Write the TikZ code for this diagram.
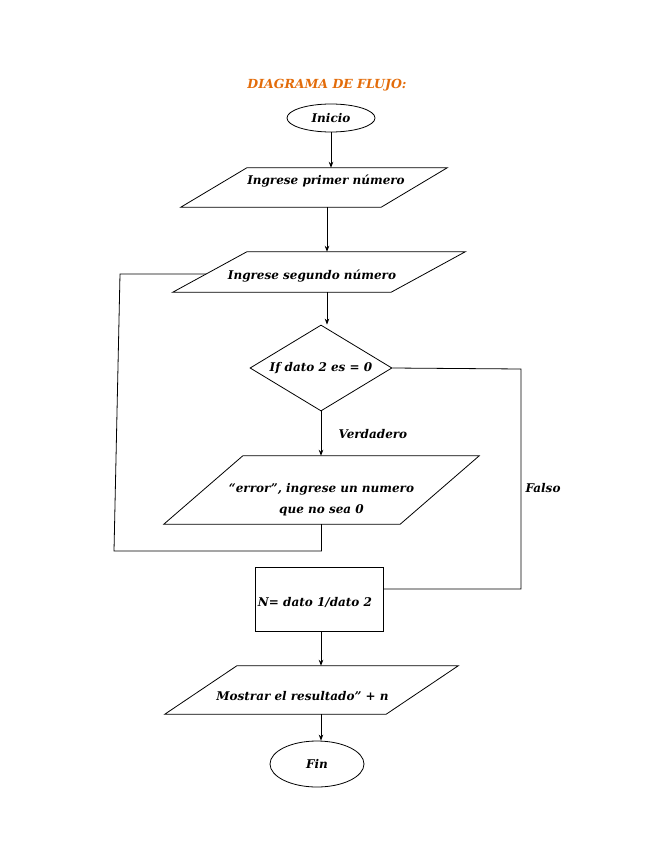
\documentclass[tikz,border=0pt]{standalone}
\usepackage{fontspec}
\setmainfont{DejaVu Serif}
\usetikzlibrary{shapes.geometric,arrows.meta}
\definecolor{titleorange}{HTML}{E36C0A}
\tikzset{
  flowtext/.style={font=\fontsize{12}{15}\selectfont\bfseries\itshape},
  terminal/.style={shape=ellipse,draw=black,line width=0.8pt,inner sep=0pt,flowtext},
  iobox/.style={shape=rectangle,inner sep=0pt,flowtext,align=center},
  decision/.style={shape=diamond,draw=black,line width=0.8pt,inner sep=0pt,aspect=1.65,flowtext},
  process/.style={shape=rectangle,draw=black,line width=0.8pt,inner sep=0pt,flowtext},
  flowline/.style={line width=0.8pt},
  flowarrow/.style={line width=0.8pt,-{Stealth[length=6pt,width=4.5pt]}}
}
\begin{document}
\begin{tikzpicture}[x=1pt,y=-1pt]
    \useasboundingbox (0,0) rectangle (655,848);
    \node[font=\fontsize{12.5}{15}\selectfont\bfseries\itshape,text=titleorange] (title) at (327,85) {DIAGRAMA DE FLUJO:};

    \node[terminal,minimum width=88pt,minimum height=28pt] (inicio) at (331,118) {Inicio};
    \node[iobox,minimum width=266pt,minimum height=39pt,text height=9pt,text depth=15pt] (p1) at (314,187.5) {\hspace*{24pt}Ingrese primer número};
    \node[iobox,minimum width=292pt,minimum height=40pt,text height=17pt,text depth=3pt] (p2) at (319,272) {Ingrese segundo número\hspace*{14pt}};
    \node[decision,minimum width=142pt,minimum height=86pt] (d) at (321,368) {If dato 2 es = 0};
    \node[iobox,minimum width=315pt,minimum height=68pt,text height=49pt,text depth=3pt] (p3) at (321.5,490) {“error”, ingrese un numero\\[6pt]que no sea 0};
    \node[process,minimum width=128pt,minimum height=64pt,text height=17pt,text depth=3pt] (r) at (319,599) {N= dato 1/dato 2\hspace*{8pt}};
    \node[iobox,minimum width=293pt,minimum height=48pt,text height=23pt,text depth=3pt] (p4) at (311.5,690) {Mostrar el resultado” + n\hspace*{18pt}};
    \node[terminal,minimum width=94pt,minimum height=46pt] (fin) at (317,764) {Fin};

    \node[flowtext,anchor=west] (verdadero) at (335,434) {Verdadero};
    \node[flowtext,anchor=west] (falso) at (522,488) {Falso};

    % parallelogram outlines round the input/output nodes
    \foreach \n/\s in {p1/66,p2/74,p3/79,p4/72}
        \draw[flowline] (\n.south west) -- ([xshift=\s pt]\n.north west) -- (\n.north east)
            -- ([xshift=-\s pt]\n.south east) -- cycle;

    \coordinate (loopA) at (120,274);
    \coordinate (loopB) at (114,551);
    \coordinate (falsoA) at (521,369);
    \coordinate (falsoB) at (521,589);

    \draw[flowarrow] (inicio.south) -- (inicio.south |- p1.north);
    \draw[flowarrow] ([xshift=6pt]d.north |- p1.south) -- ([xshift=6pt]d.north |- p2.north);
    \draw[flowarrow] ([xshift=6pt]d.north |- p2.south) -- ([xshift=6pt]d.north);
    \draw[flowarrow] (d.south) -- (d.south |- p3.north);
    \draw[flowarrow] (d.south |- r.south) -- (d.south |- p4.north);
    \draw[flowarrow] (d.south |- p4.south) -- (d.south |- fin.north);

    \draw[flowline] (p3.south) |- (loopB) -- (loopA) -- ([xshift=33pt]loopA -| p2.west);
    \draw[flowline] (d.east) -- (falsoA) -- (falsoB) -- (falsoB -| r.east);
\end{tikzpicture}
\end{document}
